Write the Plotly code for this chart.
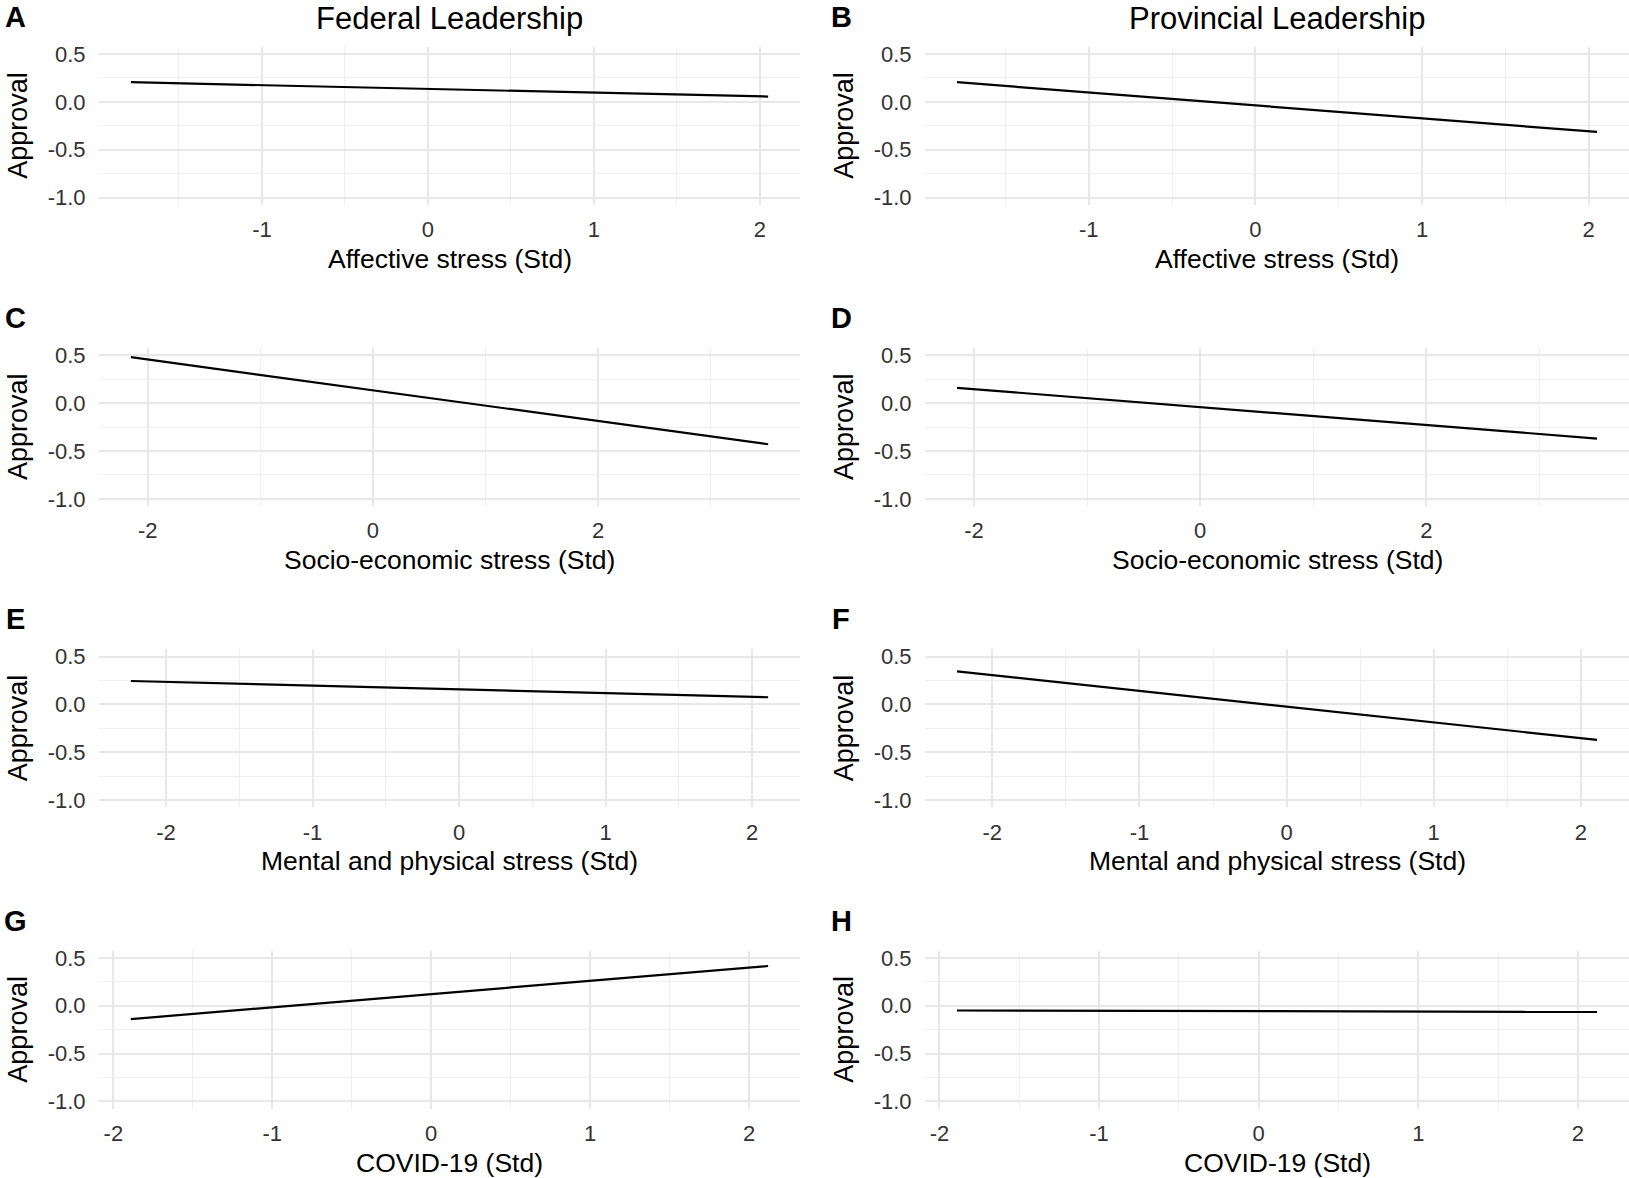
import plotly.graph_objects as go

W, H = 1629, 1178

# ---- data ----
affective_x = [-1.79, 2.05]
fed_affective_y = [0.205, 0.055]
prov_affective_y = [0.205, -0.315]

socio_x = [-2.15, 3.51]
fed_socio_y = [0.48, -0.43]
prov_socio_y = [0.16, -0.37]

mental_x = [-2.24, 2.11]
fed_mental_y = [0.245, 0.075]
prov_mental_y = [0.345, -0.37]

covid_x = [-1.89, 2.12]
fed_covid_y = [-0.14, 0.415]
prov_covid_y = [-0.05, -0.065]

column_titles = ["Federal Leadership", "Provincial Leadership"]
x_titles = ["Affective stress (Std)", "Socio-economic stress (Std)",
            "Mental and physical stress (Std)", "COVID-19 (Std)"]
panel_letters = [["A", "B"], ["C", "D"], ["E", "F"], ["G", "H"]]
y_title = "Approval"
y_ticks = [0.5, 0.0, -0.5, -1.0]
y_tick_labels = ["0.5", "0.0", "-0.5", "-1.0"]
x_tick_vals = [[-1, 0, 1, 2], [-2, 0, 2], [-2, -1, 0, 1, 2], [-2, -1, 0, 1, 2]]
x_tick_labels = [["-1", "0", "1", "2"], ["-2", "0", "2"],
                 ["-2", "-1", "0", "1", "2"], ["-2", "-1", "0", "1", "2"]]
x_minor_dtick = [0.5, 1, 0.5, 0.5]

rows = [
    (affective_x, fed_affective_y, prov_affective_y),
    (socio_x, fed_socio_y, prov_socio_y),
    (mental_x, fed_mental_y, prov_mental_y),
    (covid_x, fed_covid_y, prov_covid_y),
]

# ---- layout geometry (pixels) ----
col_left = [99, 925]
col_right = [800, 1629]
row_top0, row_bot0, row_step = 46.8, 204.7, 301.3

FONT = "Liberation Sans, Arial, sans-serif"
GRID = "#E8E8E8"
MINOR = "#EFEFEF"

fig = go.Figure()
annotations = []
layout_axes = {}

ylo, yhi = -1.0, 0.5
ypad = 0.05 * (yhi - ylo)

idx = 0
for r, (xs, yf, yp) in enumerate(rows):
    top = row_top0 + r * row_step
    bot = row_bot0 + r * row_step
    xmin, xmax = min(xs), max(xs)
    xpad = 0.05 * (xmax - xmin)
    for c, ys in enumerate([yf, yp]):
        idx += 1
        xa = "x" if idx == 1 else f"x{idx}"
        ya = "y" if idx == 1 else f"y{idx}"
        fig.add_trace(go.Scatter(x=xs, y=ys, mode="lines",
                                 line=dict(color="black", width=2.2),
                                 xaxis=xa, yaxis=ya, showlegend=False,
                                 hoverinfo="skip"))
        layout_axes["xaxis" if idx == 1 else f"xaxis{idx}"] = dict(
            domain=[col_left[c] / W, col_right[c] / W],
            anchor=ya, range=[xmin - xpad, xmax + xpad],
            tickvals=x_tick_vals[r], ticktext=x_tick_labels[r],
            showline=False, zeroline=False,
            showgrid=True, gridcolor=GRID, gridwidth=1.6,
            minor=dict(dtick=x_minor_dtick[r], tick0=0, showgrid=True,
                       gridcolor=MINOR, gridwidth=1.1),
            ticks="outside", ticklen=5, tickcolor="rgba(0,0,0,0)",
            tickfont=dict(family=FONT, size=22, color="#333333"),
            automargin=False, fixedrange=True,
        )
        layout_axes["yaxis" if idx == 1 else f"yaxis{idx}"] = dict(
            domain=[1 - bot / H, 1 - top / H],
            anchor=xa, range=[ylo - ypad, yhi + ypad],
            tickvals=y_ticks, ticktext=y_tick_labels,
            showline=False, zeroline=False,
            showgrid=True, gridcolor=GRID, gridwidth=1.6,
            minor=dict(dtick=0.25, tick0=0, showgrid=True,
                       gridcolor=MINOR, gridwidth=1.1),
            ticks="outside", ticklen=8, tickcolor="rgba(0,0,0,0)",
            tickfont=dict(family=FONT, size=22, color="#333333"),
            automargin=False, fixedrange=True,
        )
        cx = (col_left[c] + col_right[c]) / 2
        # x axis title
        annotations.append(dict(
            text=x_titles[r], x=cx / W, y=1 - (bot + 54) / H,
            xref="paper", yref="paper", showarrow=False,
            xanchor="center", yanchor="middle",
            font=dict(family=FONT, size=26.5, color="black")))
        # y axis title
        annotations.append(dict(
            text=y_title, x=(col_left[c] - 81) / W, y=1 - ((top + bot) / 2) / H,
            xref="paper", yref="paper", showarrow=False, textangle=-90,
            xanchor="center", yanchor="middle",
            font=dict(family=FONT, size=27, color="black")))
        # panel letter
        annotations.append(dict(
            text=f"<b>{panel_letters[r][c]}</b>",
            x=(col_left[c] - 84) / W, y=1 - (top - 30) / H,
            xref="paper", yref="paper", showarrow=False,
            xanchor="center", yanchor="middle",
            font=dict(family=FONT, size=29, color="black")))

for c in range(2):
    cx = (col_left[c] + col_right[c]) / 2
    annotations.append(dict(
        text=column_titles[c], x=cx / W, y=1 - 18 / H,
        xref="paper", yref="paper", showarrow=False,
        xanchor="center", yanchor="middle",
        font=dict(family=FONT, size=31, color="black")))

fig.update_layout(
    width=W, height=H,
    margin=dict(l=0, r=0, t=0, b=0),
    paper_bgcolor="white", plot_bgcolor="white",
    annotations=annotations,
    **layout_axes,
)

fig.write_html("out.html", config={"displayModeBar": False},
               post_script="document.body.style.margin='0';document.body.style.overflow='hidden';")
